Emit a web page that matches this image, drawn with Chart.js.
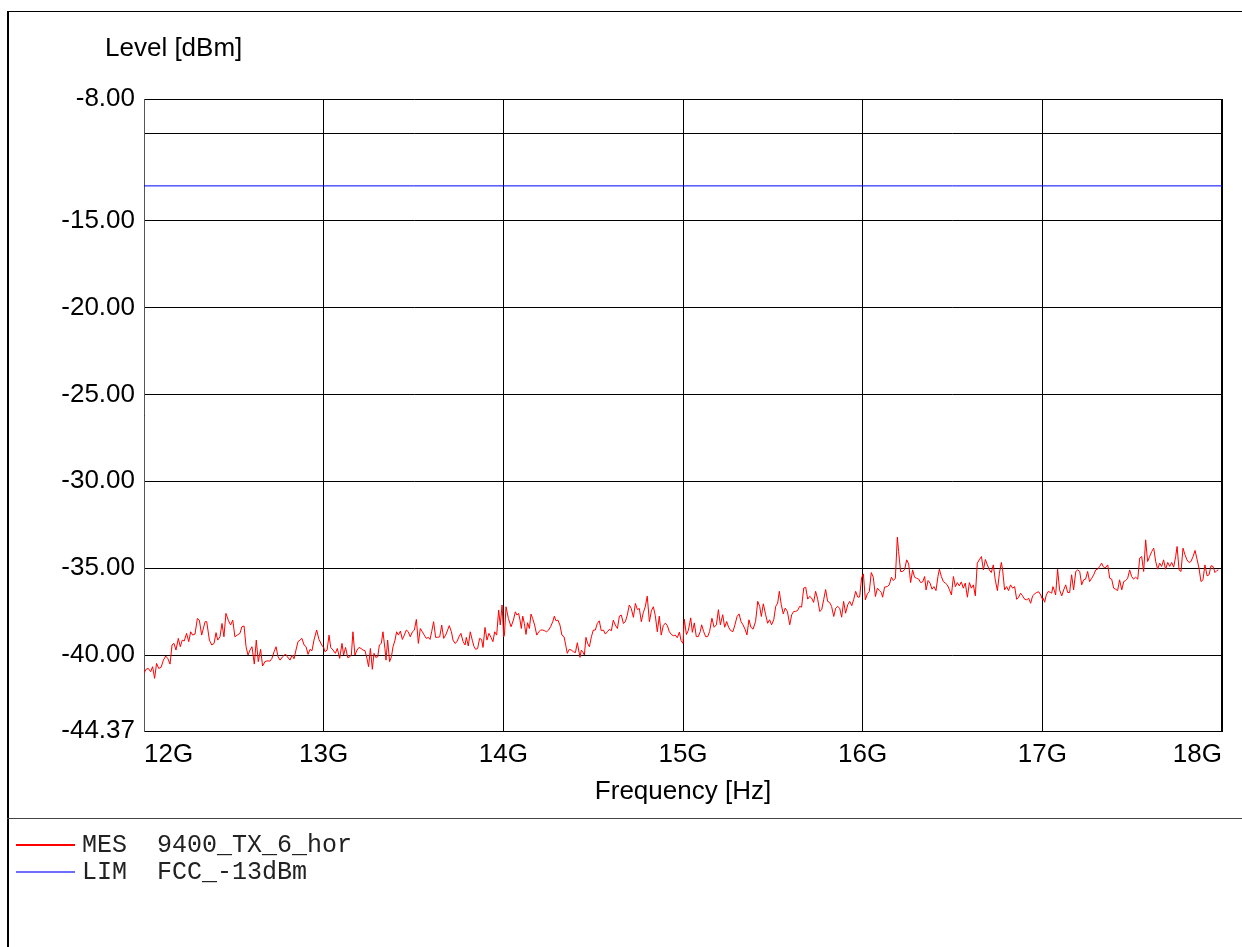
<!DOCTYPE html>
<html>
<head>
<meta charset="utf-8">
<script src="https://cdn.jsdelivr.net/npm/chart.js@4.4.1/dist/chart.umd.min.js"></script>
<style>
html,body{margin:0;padding:0;background:#fff;}
#wrap{position:relative;width:1242px;height:947px;}
canvas{display:block;}
</style>
</head>
<body>
<div id="wrap"><canvas id="c" width="1242" height="947"></canvas></div>
<script>
// ---- data ----
const yAxisTitle = 'Level [dBm]';
const xAxisTitle = 'Frequency [Hz]';
const legendLabels = ['MES  9400_TX_6_hor', 'LIM  FCC_-13dBm'];

const xTicks = [12, 13, 14, 15, 16, 17, 18];
const xTickLabels = ['12G', '13G', '14G', '15G', '16G', '17G', '18G'];
const yTicks = [-44.37, -40, -35, -30, -25, -20, -15, -10, -8];
const yTickLabels = ['-44.37', '-40.00', '-35.00', '-30.00', '-25.00', '-20.00', '-15.00', '', '-8.00'];

const limitFreq = [12, 18];
const limitLevel = [-13, -13];

const freqGHz = [
12.000,12.011,12.024,12.037,12.048,12.059,12.070,12.082,12.095,12.108,12.121,12.132,12.145,12.156,12.167,12.178,12.191,12.202,12.213,12.224,
12.237,12.249,12.260,12.271,12.284,12.297,12.308,12.321,12.340,12.349,12.364,12.377,12.390,12.401,12.410,12.423,12.434,12.445,12.456,12.469,
12.482,12.494,12.506,12.519,12.534,12.545,12.557,12.568,12.579,12.590,12.601,12.614,12.625,12.636,12.649,12.660,12.673,12.686,12.701,12.712,
12.724,12.735,12.746,12.757,12.772,12.787,12.798,12.813,12.824,12.835,12.846,12.857,12.868,12.879,12.891,12.902,12.913,12.924,12.935,12.946,
12.961,12.974,12.989,
13.000,13.007,13.019,13.030,13.039,13.052,13.065,13.076,13.089,13.102,13.111,13.122,13.134,13.145,13.154,13.163,13.174,13.186,13.197,13.208,
13.219,13.230,13.241,13.250,13.260,13.271,13.280,13.289,13.301,13.310,13.321,13.330,13.341,13.347,13.356,13.367,13.377,13.386,13.397,13.406,
13.416,13.427,13.438,13.449,13.460,13.471,13.482,13.494,13.505,13.516,13.527,13.538,13.549,13.560,13.571,13.583,13.592,13.601,13.612,13.623,
13.635,13.646,13.657,13.668,13.679,13.690,13.699,13.711,13.720,13.731,13.742,13.753,13.764,13.776,13.787,13.794,13.805,13.816,13.827,13.837,
13.846,13.857,13.868,13.879,13.887,13.898,13.909,13.920,13.931,13.942,13.952,13.963,13.974,13.983,13.993,14.002,
14.006,14.015,14.028,14.043,14.056,14.067,14.076,14.085,14.093,14.100,14.108,14.117,14.126,14.135,14.145,14.154,14.163,14.174,14.186,14.197,
14.208,14.219,14.230,14.241,14.252,14.263,14.275,14.284,14.293,14.304,14.315,14.326,14.338,14.349,14.356,14.367,14.378,14.390,14.401,14.412,
14.419,14.427,14.434,14.442,14.451,14.460,14.469,14.479,14.490,14.501,14.512,14.523,14.534,14.545,14.557,14.568,14.579,14.590,14.601,14.612,
14.623,14.635,14.646,14.657,14.668,14.679,14.690,14.701,14.712,14.724,14.735,14.746,14.757,14.768,14.779,14.790,14.801,14.813,14.824,14.835,
14.846,14.857,14.868,14.879,14.890,14.902,14.913,14.924,14.935,14.946,14.957,14.968,14.980,14.989,
15.000,15.007,15.019,15.030,15.043,15.052,15.063,15.074,15.085,15.096,15.104,15.115,15.126,15.137,15.148,15.161,15.173,15.186,15.197,15.208,
15.221,15.232,15.243,15.254,15.265,15.278,15.289,15.301,15.312,15.323,15.334,15.345,15.356,15.367,15.378,15.390,15.404,15.416,15.427,15.436,
15.447,15.460,15.471,15.482,15.493,15.505,15.516,15.527,15.536,15.547,15.558,15.569,15.581,15.594,15.605,15.616,15.627,15.638,15.649,15.660,
15.672,15.683,15.694,15.705,15.716,15.727,15.738,15.750,15.761,15.772,15.783,15.794,15.805,15.816,15.827,15.839,15.850,15.861,15.872,15.883,
15.894,15.905,15.917,15.928,15.939,15.950,15.961,15.972,15.983,15.994,16.002,
16.004,16.015,16.026,16.037,16.048,16.059,16.071,16.082,16.093,16.104,16.111,16.122,16.137,16.148,16.160,16.171,16.182,16.193,16.200,16.211,
16.223,16.234,16.245,16.256,16.267,16.278,16.289,16.300,16.312,16.323,16.334,16.345,16.353,16.364,16.375,16.386,16.397,16.408,16.419,16.427,
16.438,16.449,16.460,16.471,16.482,16.494,16.505,16.516,16.527,16.538,16.549,16.560,16.571,16.583,16.594,16.605,16.616,16.627,16.638,16.649,
16.661,16.672,16.683,16.694,16.705,16.716,16.727,16.738,16.750,16.761,16.772,16.779,16.790,16.801,16.812,16.823,16.835,16.846,16.857,16.868,
16.879,16.890,16.902,16.913,16.924,16.935,16.946,16.957,16.968,16.980,16.991,17.002,
17.004,17.013,17.022,17.033,17.045,17.052,17.059,17.067,17.074,17.085,17.096,17.108,17.119,17.130,17.141,17.152,17.163,17.174,17.186,17.197,
17.208,17.219,17.230,17.241,17.252,17.263,17.275,17.286,17.297,17.308,17.319,17.330,17.338,17.349,17.364,17.375,17.386,17.397,17.408,17.419,
17.430,17.442,17.453,17.464,17.475,17.486,17.497,17.508,17.519,17.531,17.542,17.553,17.564,17.575,17.586,17.597,17.609,17.620,17.631,17.642,
17.653,17.664,17.675,17.686,17.698,17.709,17.720,17.731,17.742,17.750,17.761,17.772,17.783,17.794,17.805,17.816,17.827,17.839,17.850,17.861,
17.872,17.883,17.894,17.905,17.917,17.928,17.939,17.950,17.961,17.972,17.980
];

const levelDbm = [
-41.05,-40.82,-40.77,-40.96,-40.67,-41.34,-40.48,-40.77,-40.71,-40.29,-40.06,-40.19,-40.52,-39.42,-39.33,-39.71,-39.04,-39.52,-39.14,-39.19,
-38.75,-39.23,-38.66,-38.85,-38.79,-37.89,-37.99,-38.85,-38.08,-38.08,-39.14,-39.42,-39.33,-38.71,-39.14,-38.95,-38.18,-38.95,-37.60,-37.99,
-38.27,-37.99,-38.95,-38.85,-38.75,-38.37,-38.33,-39.52,-40.00,-39.71,-39.52,-40.52,-39.14,-40.38,-39.67,-40.63,-40.38,-40.33,-40.35,-40.19,
-39.81,-39.52,-40.10,-40.29,-40.10,-39.94,-40.10,-40.29,-40.00,-40.21,-39.71,-39.23,-39.14,-39.04,-39.42,-39.52,-39.96,-39.67,-39.75,-39.14,
-38.56,-39.10,-39.42,
-39.56,-39.81,-39.71,-38.85,-39.56,-39.71,-39.90,-39.62,-40.19,-39.33,-40.00,-39.56,-40.15,-40.10,-40.00,-38.66,-40.00,-39.71,-39.56,-39.62,
-39.71,-39.75,-40.19,-40.67,-39.62,-40.82,-39.90,-40.13,-40.10,-39.42,-39.33,-38.66,-39.62,-40.29,-39.14,-40.38,-40.10,-39.52,-39.14,-38.66,
-38.85,-38.62,-39.10,-38.85,-38.56,-38.66,-38.95,-38.66,-38.56,-37.95,-39.33,-38.47,-38.66,-38.85,-39.04,-38.98,-39.10,-38.66,-38.08,-38.98,
-38.98,-38.95,-38.27,-39.04,-38.85,-38.56,-38.31,-38.66,-39.14,-39.33,-39.23,-38.95,-38.75,-39.23,-39.42,-38.98,-39.48,-38.66,-39.14,-39.52,
-39.67,-39.62,-39.04,-39.10,-39.56,-38.41,-39.14,-38.75,-38.98,-39.23,-38.66,-38.85,-37.41,-38.27,-37.12,-38.95,
-38.85,-37.22,-37.89,-38.37,-37.99,-37.51,-37.70,-37.60,-37.99,-38.47,-37.76,-38.18,-38.81,-38.14,-38.47,-37.64,-37.89,-38.27,-38.85,-38.66,
-38.56,-38.56,-38.60,-38.66,-38.56,-38.37,-38.08,-37.76,-38.03,-37.99,-38.27,-38.85,-38.95,-39.52,-39.90,-39.67,-39.71,-39.81,-39.86,-39.29,
-39.71,-40.13,-39.71,-39.81,-40.00,-38.98,-39.33,-39.52,-38.95,-38.56,-38.56,-38.18,-38.03,-38.60,-38.56,-38.79,-38.66,-38.52,-38.60,-37.99,
-38.27,-38.47,-37.76,-37.70,-38.18,-38.08,-37.70,-37.12,-37.32,-37.83,-37.03,-37.38,-37.32,-38.08,-37.56,-37.22,-36.61,-38.08,-37.45,-37.22,
-37.74,-38.66,-37.76,-38.85,-38.31,-38.16,-38.31,-38.66,-38.81,-38.89,-38.85,-39.00,-38.68,-39.16,
-39.33,-37.93,-38.82,-38.57,-37.86,-38.69,-38.15,-38.94,-38.94,-38.65,-38.26,-38.65,-38.94,-38.94,-38.65,-37.88,-38.40,-38.26,-37.39,-38.26,
-37.68,-38.40,-38.07,-38.40,-38.59,-38.65,-38.26,-37.78,-37.63,-38.07,-38.26,-38.51,-38.84,-37.97,-38.40,-38.51,-38.07,-36.91,-37.20,-37.78,
-37.05,-37.68,-38.17,-37.97,-38.26,-37.97,-37.20,-37.01,-36.33,-37.10,-37.63,-37.30,-37.49,-38.26,-37.68,-37.49,-37.49,-37.43,-37.20,-37.24,
-36.14,-36.10,-36.78,-36.62,-36.72,-36.97,-36.33,-36.81,-37.49,-37.39,-36.81,-36.23,-36.91,-36.97,-37.20,-37.78,-37.30,-37.20,-37.30,-37.82,
-36.91,-37.59,-37.10,-36.91,-37.16,-36.81,-36.33,-36.66,-36.66,-35.56,-35.37,
-35.33,-36.82,-36.48,-36.34,-35.25,-35.52,-36.63,-36.15,-36.29,-36.40,-36.67,-36.09,-36.06,-35.96,-35.52,-35.71,-35.58,-33.21,-34.04,-35.19,
-35.19,-35.06,-34.52,-34.75,-35.83,-35.10,-35.52,-35.58,-35.63,-35.83,-35.79,-35.48,-36.25,-35.71,-35.86,-36.21,-36.06,-36.29,-35.48,-35.06,
-35.48,-35.77,-35.86,-35.96,-36.21,-36.54,-35.48,-36.06,-35.83,-36.02,-35.79,-36.15,-35.86,-36.67,-35.83,-36.15,-35.96,-36.59,-34.71,-34.52,
-34.33,-35.10,-34.50,-34.81,-35.10,-35.25,-34.81,-35.67,-36.29,-35.29,-34.67,-35.10,-36.25,-36.06,-36.29,-35.96,-36.15,-36.06,-36.79,-36.67,
-36.44,-36.59,-36.79,-36.82,-36.73,-37.02,-36.59,-36.48,-36.40,-36.36,-36.54,-36.82,
-36.73,-36.96,-36.54,-36.34,-36.40,-36.44,-36.06,-36.29,-36.54,-35.06,-36.25,-36.59,-36.25,-35.96,-36.40,-36.40,-35.38,-36.25,-35.19,-35.10,
-35.19,-35.96,-35.67,-35.63,-35.19,-35.77,-35.58,-35.38,-35.10,-35.06,-34.90,-34.71,-34.90,-35.00,-34.81,-35.58,-35.63,-36.15,-36.21,-36.29,
-35.67,-36.25,-35.77,-35.71,-35.58,-35.10,-35.48,-35.63,-35.52,-35.63,-34.42,-34.33,-35.19,-33.37,-34.62,-34.33,-34.04,-33.85,-34.62,-35.06,
-34.71,-34.90,-34.52,-35.06,-34.67,-34.90,-34.67,-34.94,-34.33,-33.75,-35.10,-35.19,-33.85,-34.23,-34.52,-34.67,-34.62,-34.33,-33.98,-34.48,
-35.00,-35.77,-35.67,-34.81,-35.44,-35.38,-34.86,-34.90,-35.25,-35.13,-35.10
];

// ---- styles ----
const SANS = '"Liberation Sans", Arial, sans-serif';
const MONO = '"Liberation Mono", "Courier New", monospace';
const RED = '#ff0000';
const BLUE = '#0000ff';
const LEGEND_BLUE = '#6f6fff';

const framePlugin = {
  id: 'frame',
  beforeDraw(chart) {
    const c = chart.ctx;
    c.save();
    c.fillStyle = '#fff';
    c.fillRect(0, 0, chart.width, chart.height);
    c.fillStyle = '#000';
    c.fillRect(7, 11, 2, 936);      // left frame
    c.fillRect(7, 11, 1235, 1);     // top frame
    c.fillStyle = '#444';
    c.fillRect(7, 818, 1235, 1);    // separator above legend
    c.restore();
  },
  afterDraw(chart) {
    const c = chart.ctx;
    c.save();
    // y axis title
    c.fillStyle = '#000';
    c.font = '26px ' + SANS;
    c.textAlign = 'left';
    c.textBaseline = 'middle';
    c.fillText(yAxisTitle, 105, 49);
    // legend
    const rows = [
      {y: 844, ty: 852, color: RED, text: chart.data.datasets[0].label},
      {y: 871, ty: 879, color: LEGEND_BLUE, text: chart.data.datasets[1].label}
    ];
    c.font = '25px ' + MONO;
    c.textBaseline = 'alphabetic';
    rows.forEach(r => {
      c.fillStyle = r.color;
      c.fillRect(16, r.y, 59, 2);
      c.fillStyle = '#222';
      c.fillText(r.text, 82, r.ty);
    });
    c.restore();
  }
};

const tickFont = {family: SANS, size: 26};

new Chart(document.getElementById('c'), {
  type: 'line',
  data: {
    datasets: [
      {
        label: legendLabels[0],
        data: freqGHz.map((f, i) => ({x: f, y: levelDbm[i]})),
        borderColor: RED, borderWidth: 1, pointRadius: 0, tension: 0, fill: false
      },
      {
        label: legendLabels[1],
        data: limitFreq.map((f, i) => ({x: f, y: limitLevel[i]})),
        borderColor: BLUE, borderWidth: 1, pointRadius: 0, tension: 0, fill: false
      }
    ]
  },
  options: {
    responsive: false,
    animation: false,
    devicePixelRatio: 1,
    layout: {padding: {left: 0, top: 99, right: 20, bottom: 137}},
    plugins: {legend: {display: false}, tooltip: {enabled: false}, title: {display: false}},
    scales: {
      x: {
        type: 'linear', min: 12, max: 18,
        afterBuildTicks: s => { s.ticks = xTicks.map(v => ({value: v})); },
        afterFit: s => { s.height = 79; },
        ticks: {
          callback: (v, i) => xTickLabels[i],
          align: 'inner', padding: 8, font: tickFont, color: '#000',
          maxRotation: 0, minRotation: 0, autoSkip: false
        },
        grid: {
          color: '#000',
          lineWidth: ctx => (ctx.tick && ctx.tick.value === 18 ? 2 : 1),
          drawTicks: false
        },
        border: {display: true, color: '#000', width: 1},
        title: {display: true, text: xAxisTitle, font: tickFont, color: '#000', padding: {top: 0, bottom: 3}}
      },
      y: {
        type: 'linear', min: -44.37, max: -8,
        afterBuildTicks: s => { s.ticks = yTicks.map(v => ({value: v})); },
        afterFit: s => { s.width = 144; },
        ticks: {
          callback: (v, i) => yTickLabels[i],
          padding: 9, font: tickFont, color: '#000', autoSkip: false
        },
        grid: {color: '#000', lineWidth: 1, drawTicks: false},
        border: {display: true, color: '#555', width: 1}
      }
    }
  },
  plugins: [framePlugin]
});
</script>
</body>
</html>
